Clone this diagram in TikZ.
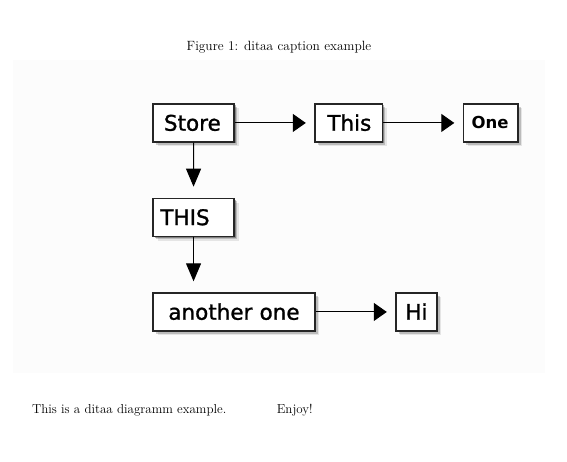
\documentclass[tikz,border=0pt]{standalone}
\usepackage{fontspec}
\usetikzlibrary{arrows.meta,shadows}
\newfontfamily\ditaafont[RawFeature={embolden=1.2}]{DejaVu Sans}
\newfontfamily\ditaabold{DejaVu Sans Bold}

\tikzset{
  softshadow/.style={
    drop shadow={shadow xshift=1.5pt,shadow yshift=-1.5pt,fill=black,opacity=.3},
    drop shadow={shadow xshift=3pt,shadow yshift=-3pt,fill=black,opacity=.18},
    drop shadow={shadow xshift=4.5pt,shadow yshift=-4.5pt,fill=black,opacity=.09}},
  ditaabox/.style 2 args={draw=black!85,line width=1.3pt,fill=white,softshadow,
    anchor=north west,minimum height=38pt,inner ysep=0pt,align=left,
    inner xsep=#1,text width=#2,text height=15.5pt,text depth=0pt,
    font=\ditaafont\fontsize{21.5}{21.5}\selectfont},
  hlink/.style={line width=1pt,-{Triangle[length=13pt,width=18pt]},shorten >=8.5pt},
  vlink/.style={line width=1pt,-{Triangle[length=18pt,width=15pt]},shorten >=11pt},
  pagetext/.style={anchor=base west,inner sep=0pt,font=\fontsize{13}{15}\selectfont}
}

\begin{document}
\begin{tikzpicture}[x=1pt,y=-1pt]
    \useasboundingbox (0,0) rectangle (567,462);

    % Caption
    \node[anchor=base,inner sep=0pt,font=\fontsize{13.4}{15}\selectfont] (caption) at (279,50.7) {Figure 1: ditaa caption example};

    % Diagram panel
    \fill[black!1.2] (13,60) rectangle (545,373);

    % Boxes
    \node[ditaabox={10.9pt}{59.2pt}] (store) at (152.4,103.3) {Store};
    \node[ditaabox={12.4pt}{42.7pt}] (this) at (314.3,103.3) {This};
    \node[ditaabox={8.2pt}{38pt},font=\ditaabold\fontsize{16.5}{16.5}\selectfont,text height=12pt] (one) at (462.8,103.3) {One};
    \node[ditaabox={7.3pt}{66.4pt}] (THIS) at (152.4,197.7) {THIS};
    \node[ditaabox={15.3pt}{131.3pt}] (another) at (152.4,292.3) {another~one};
    \node[ditaabox={9.4pt}{22.2pt}] (hi) at (395.3,292.3) {Hi};

    % Arrows
    \draw[hlink] (store) -- (this);
    \draw[hlink] (this) -- (one);
    \draw[vlink] (store) -- (THIS);
    \draw[vlink] (THIS.south) -- (THIS.south |- another.north);
    \draw[hlink] (another) -- (hi);

    % Text below the figure
    \node[pagetext] (body) at (31.9,413.3) {This is a ditaa diagramm example.};
    \node[pagetext] (enjoy) at (276.6,413.3) {Enjoy!};
  \end{tikzpicture}
\end{document}
